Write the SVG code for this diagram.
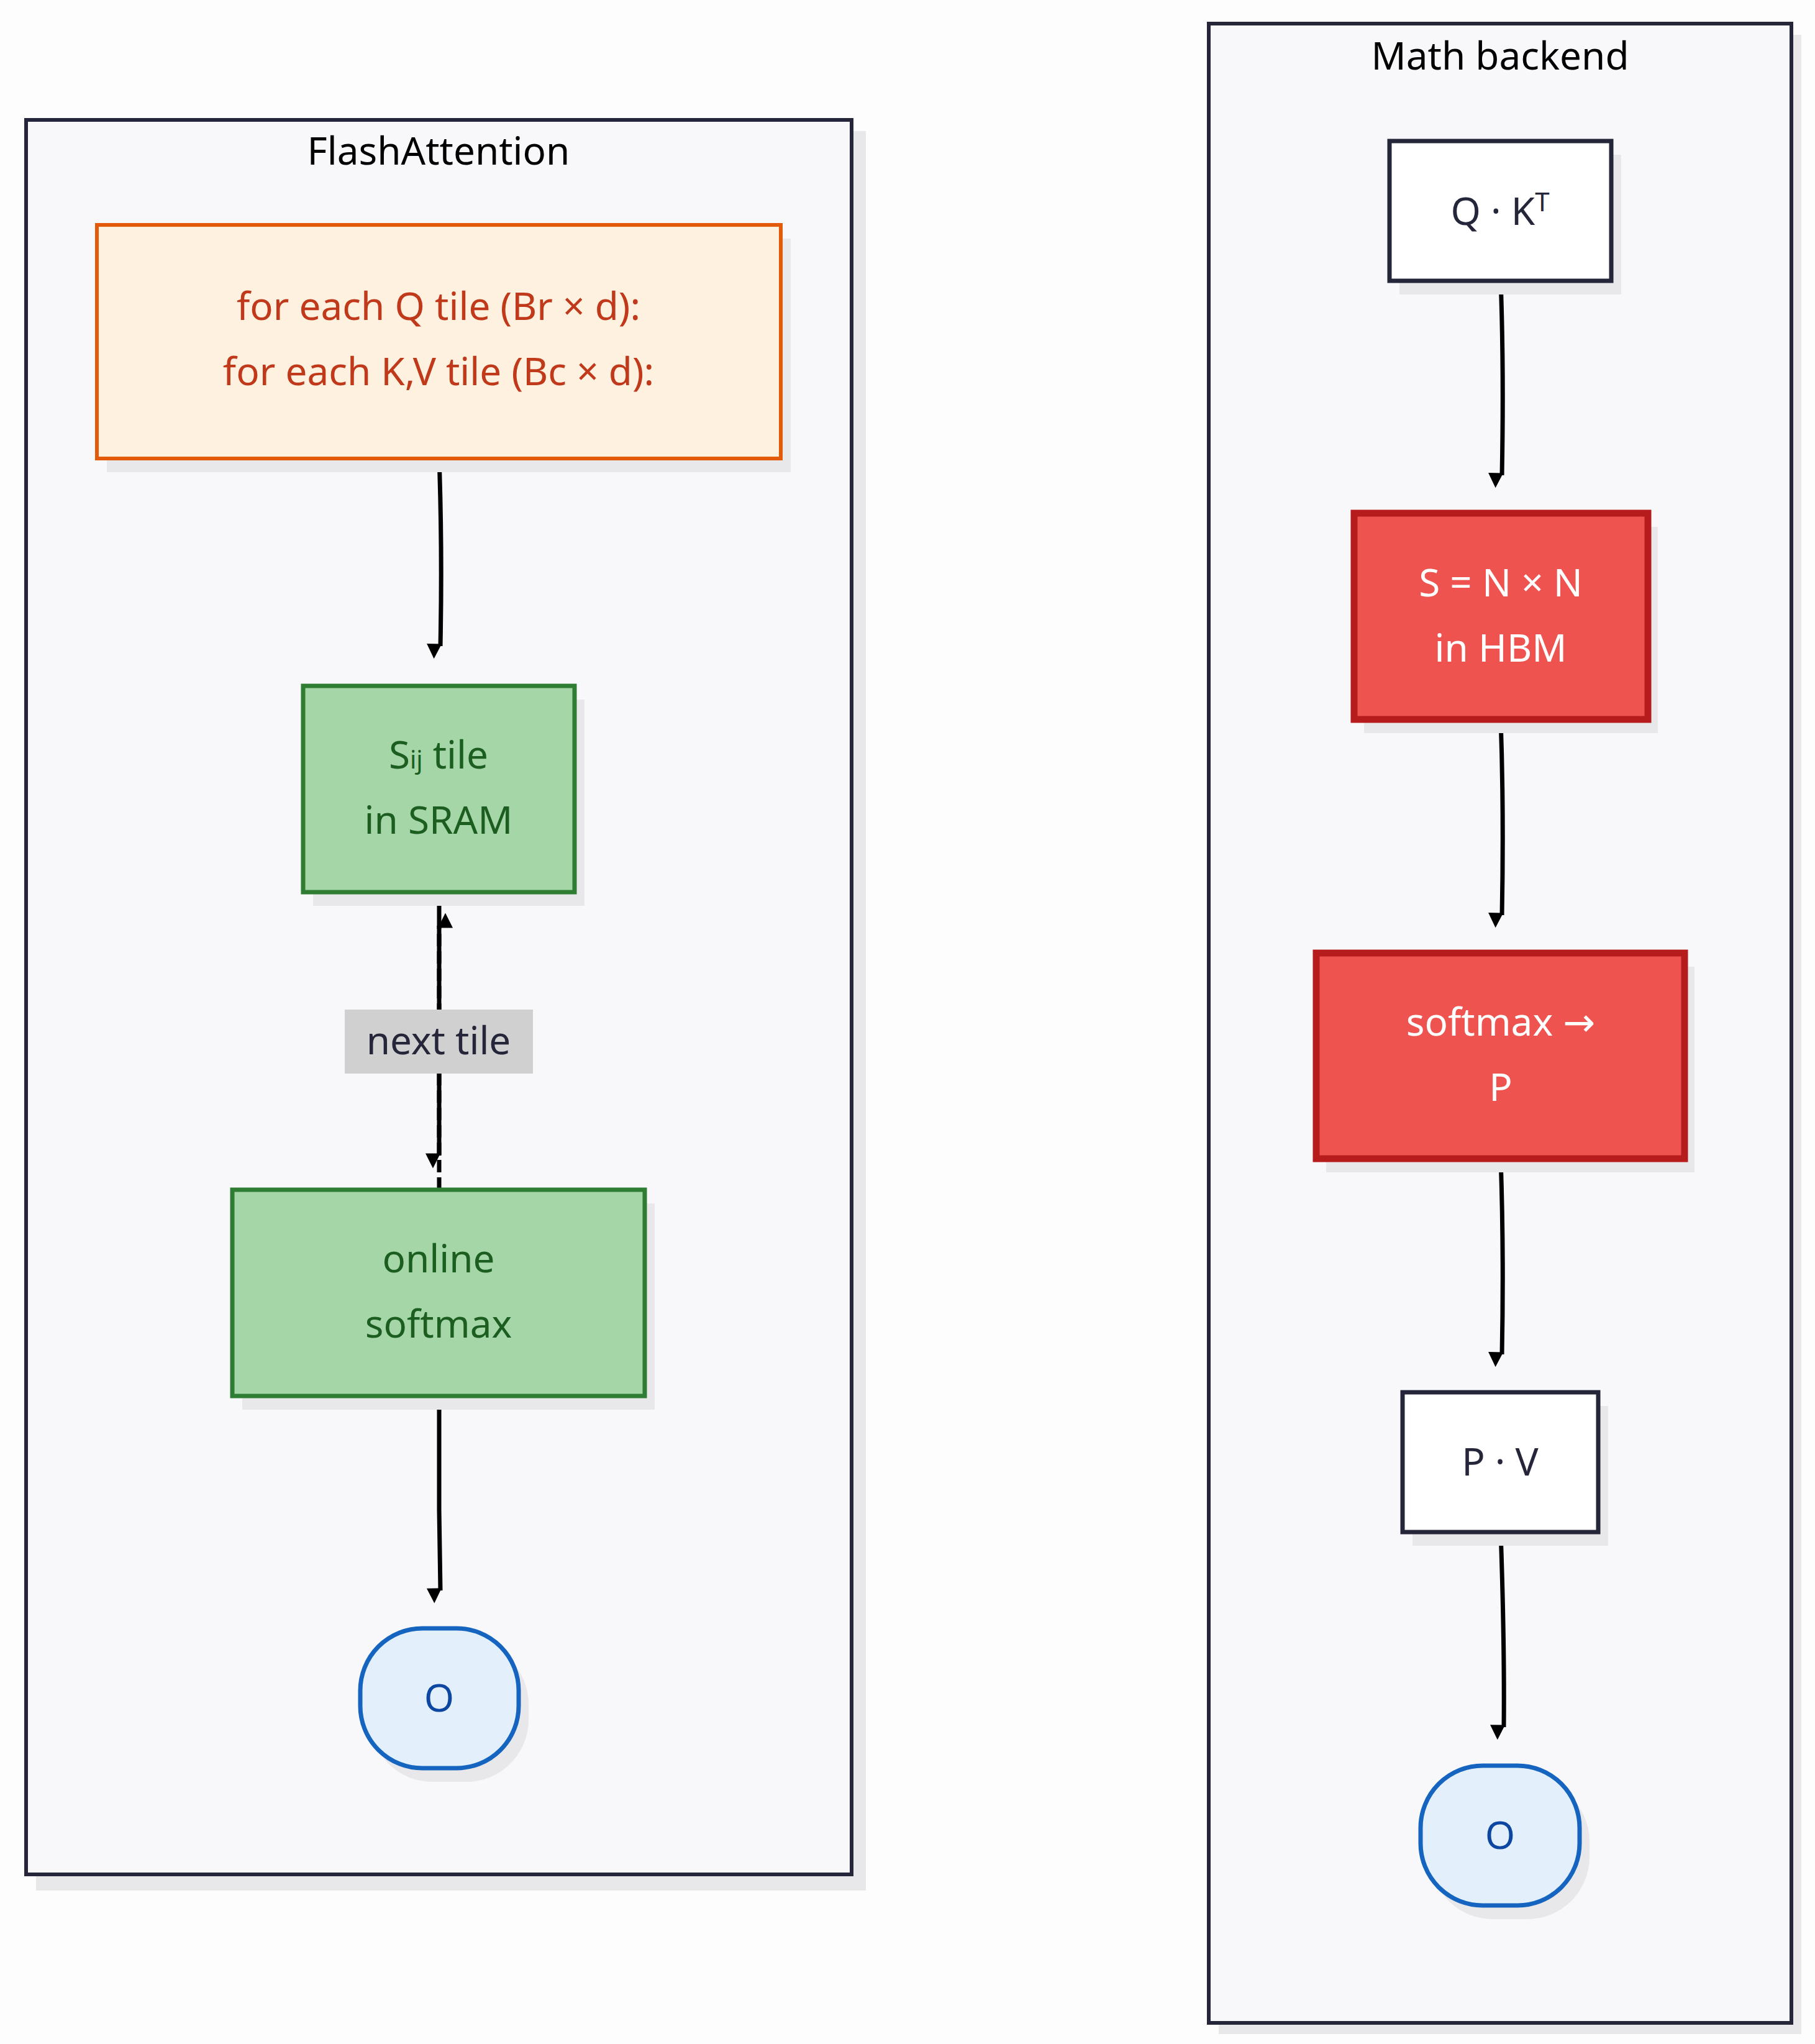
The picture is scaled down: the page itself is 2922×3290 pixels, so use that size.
<svg xmlns="http://www.w3.org/2000/svg" width="2922" height="3290" viewBox="0 0 2922 3290">
<style>
text{font-family:"Noto Sans","DejaVu Sans",sans-serif;font-size:62px;text-anchor:middle}
.cl{fill:#f8f8fa;stroke:#26263a;stroke-width:6}
.sh{fill:#e8e8eb}
.e{fill:none;stroke:#000;stroke-width:7}
</style>
<defs>
<marker id="a" viewBox="0 0 10 10" refX="9" refY="5" markerWidth="4" markerHeight="4" markerUnits="userSpaceOnUse" orient="auto" style="overflow:visible"><path d="M0,0L10,5L0,10z" fill="#000" transform="scale(6)"/></marker>
</defs>
<rect width="2922" height="3290" fill="#fdfdfd"/>
<g id="cluster-flash">
<rect class="sh" x="58" y="211" width="1336" height="2832"/>
<rect class="cl" x="42" y="193" width="1329" height="2824"/>
<text x="706" y="265" fill="#000">FlashAttention</text>
</g>
<g id="cluster-math">
<rect class="sh" x="1962" y="56" width="938" height="3218"/>
<rect class="cl" x="1946" y="38" width="938" height="3218"/>
<text x="2415" y="112" fill="#000">Math backend</text>
</g>
<g id="connectors">
<path class="e" d="M707,738 C711,850 711,940 709,1040" marker-end="url(#a)"/>
<path class="e" d="M707,1436 L707,1860" marker-end="url(#a)"/>
<path class="e" d="M707,1915 L707,1490" stroke-dasharray="20 8" marker-end="url(#a)"/>
<rect x="555" y="1625" width="303" height="103" fill="#d0d0d0"/>
<text x="706" y="1697" fill="#26263a">next tile</text>
<path class="e" d="M707,2247 L707,2430 L709,2560" marker-end="url(#a)"/>
<path class="e" d="M2416,452 C2420,560 2420,660 2418,765" marker-end="url(#a)"/>
<path class="e" d="M2416,1158 C2420,1270 2420,1370 2418,1473" marker-end="url(#a)"/>
<path class="e" d="M2416,1865 C2420,1980 2420,2080 2418,2180" marker-end="url(#a)"/>
<path class="e" d="M2416,2466 C2420,2580 2422,2680 2421,2780" marker-end="url(#a)"/>
</g>
<g id="n-loop">
<rect class="sh" x="172" y="384" width="1101" height="376"/>
<rect x="156" y="362" width="1101" height="376" fill="#fff1df" stroke="#e35a0a" stroke-width="6"/>
<text x="706" y="515" fill="#c0391b">for each Q tile (Br × d):</text>
<text x="706" y="620" fill="#c0391b">for each K,V tile (Bc × d):</text>
</g>
<g id="n-sij">
<rect class="sh" x="504" y="1126" width="437" height="332"/>
<rect x="488" y="1104" width="437" height="332" fill="#a5d6a7" stroke="#2e7d32" stroke-width="7"/>
<text x="706" y="1237" fill="#1b5e20">S<tspan font-size="40">ij</tspan> tile</text>
<text x="706" y="1342" fill="#1b5e20">in SRAM</text>
</g>
<g id="n-online">
<rect class="sh" x="390" y="1937" width="664" height="332"/>
<rect x="374" y="1915" width="664" height="332" fill="#a5d6a7" stroke="#2e7d32" stroke-width="7"/>
<text x="706" y="2048" fill="#1b5e20">online</text>
<text x="706" y="2153" fill="#1b5e20">softmax</text>
</g>
<g id="n-o1">
<rect class="sh" x="596" y="2643" width="255" height="225" rx="100"/>
<rect x="580" y="2621" width="255" height="225" rx="100" fill="#e3f0fb" stroke="#1565c0" stroke-width="7"/>
<text x="707" y="2755" fill="#0d47a1">O</text>
</g>
<g id="n-qk">
<rect class="sh" x="2253" y="249" width="357" height="225"/>
<rect x="2237" y="227" width="357" height="225" fill="#fff" stroke="#26263a" stroke-width="7"/>
<text x="2415" y="362" fill="#26263a">Q · K<tspan font-size="42" dy="-22">T</tspan></text>
</g>
<g id="n-s">
<rect class="sh" x="2196" y="848" width="473" height="332"/>
<rect x="2180" y="826" width="473" height="332" fill="#ef5350" stroke="#b71c1c" stroke-width="11"/>
<text x="2416" y="960" fill="#fff">S = N × N</text>
<text x="2416" y="1065" fill="#fff">in HBM</text>
</g>
<g id="n-sm">
<rect class="sh" x="2135" y="1556" width="593" height="331"/>
<rect x="2119" y="1534" width="593" height="331" fill="#ef5350" stroke="#b71c1c" stroke-width="11"/>
<text x="2416" y="1667" fill="#fff">softmax →</text>
<text x="2416" y="1772" fill="#fff">P</text>
</g>
<g id="n-pv">
<rect class="sh" x="2274" y="2263" width="315" height="225"/>
<rect x="2258" y="2241" width="315" height="225" fill="#fff" stroke="#26263a" stroke-width="7"/>
<text x="2415" y="2375" fill="#26263a">P · V</text>
</g>
<g id="n-o2">
<rect class="sh" x="2303" y="2864" width="256" height="225" rx="100"/>
<rect x="2287" y="2842" width="256" height="225" rx="100" fill="#e3f0fb" stroke="#1565c0" stroke-width="7"/>
<text x="2415" y="2976" fill="#0d47a1">O</text>
</g>
</svg>
